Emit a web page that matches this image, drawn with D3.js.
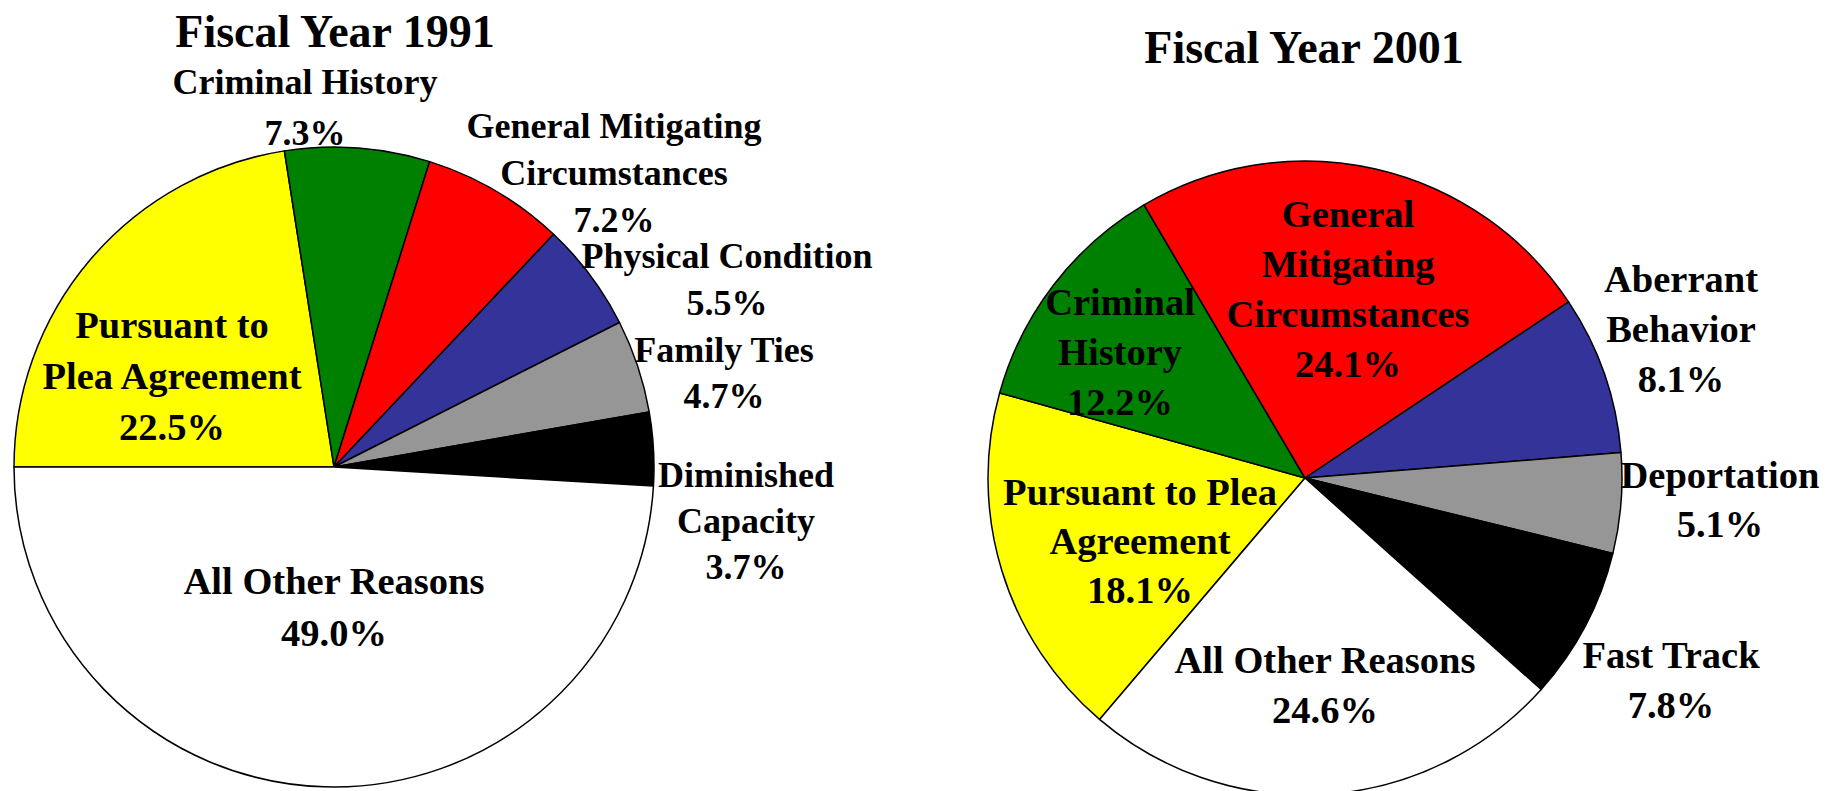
<!DOCTYPE html>
<html>
<head>
<meta charset="utf-8">
<script src="https://cdn.jsdelivr.net/npm/d3@7"></script>
<style>
  body { margin: 0; background: #fff; }
  svg text { font-family: "Liberation Serif", "Times New Roman", serif; font-weight: bold; fill: #000; }
</style>
</head>
<body>
<svg width="1827" height="791"></svg>
<script>
// slice order is the same in both years, going clockwise
const colors = ["#ffff00", "#008000", "#ff0000", "#333399", "#969696", "#000000", "#ffffff"];

const categories1991 = ["Pursuant to Plea Agreement", "Criminal History", "General Mitigating Circumstances",
    "Physical Condition", "Family Ties", "Diminished Capacity", "All Other Reasons"];
const values1991 = [22.5, 7.3, 7.2, 5.5, 4.7, 3.7, 49.0];
const labelLines1991 = [["Pursuant to", "Plea Agreement"], ["Criminal History"], ["General Mitigating", "Circumstances"],
    ["Physical Condition"], ["Family Ties"], ["Diminished", "Capacity"], ["All Other Reasons"]];

const categories2001 = ["Pursuant to Plea Agreement", "Criminal History", "General Mitigating Circumstances",
    "Aberrant Behavior", "Deportation", "Fast Track", "All Other Reasons"];
const values2001 = [18.1, 12.2, 24.1, 8.1, 5.1, 7.8, 24.6];
const labelLines2001 = [["Pursuant to Plea", "Agreement"], ["Criminal", "History"], ["General", "Mitigating", "Circumstances"],
    ["Aberrant", "Behavior"], ["Deportation"], ["Fast Track"], ["All Other Reasons"]];

// label placement relative to the pie centre (first baseline), line spacing and font size
const labelLayout1991 = [
    { dx: -162, dy: -129, lh: 51, fs: 38.5 }, { dx: -29, dy: -373, lh: 51, fs: 36 },
    { dx: 280, dy: -329, lh: 47, fs: 36 }, { dx: 393, dy: -199, lh: 47, fs: 36 },
    { dx: 390, dy: -105, lh: 46, fs: 36 }, { dx: 412, dy: 20, lh: 46, fs: 36 },
    { dx: 0, dy: 127, lh: 52, fs: 38.5 }];
const labelLayout2001 = [
    { dx: -165, dy: 27, lh: 49, fs: 38.5 }, { dx: -185, dy: -163, lh: 50, fs: 38.5 },
    { dx: 43, dy: -251, lh: 50, fs: 38.5 }, { dx: 376, dy: -186, lh: 50, fs: 38.5 },
    { dx: 415, dy: 10, lh: 49, fs: 38.5 }, { dx: 366, dy: 190, lh: 50, fs: 38.5 },
    { dx: 20, dy: 195, lh: 50, fs: 38.5 }];

const svg = d3.select("svg");
const fmt = d => d3.format(".1f")(d) + "%";

function drawPie(opts) {
    const g = svg.append("g")
        .attr("transform", `translate(${opts.cx}, ${opts.cy})`);

    const data = opts.values.map((v, i) => ({ cat: opts.categories[i], value: v, lines: opts.lines[i], pos: opts.layout[i] }));

    const pie = d3.pie()
        .sort(null)
        .value(d => d.value)
        .startAngle(opts.start)
        .endAngle(opts.start + 2 * Math.PI);

    const arc = d3.arc().innerRadius(0).outerRadius(opts.r);

    g.selectAll("path")
        .data(pie(data))
        .enter().append("path")
        .attr("d", arc)
        .attr("fill", (d, i) => colors[i])
        .attr("stroke", "#000")
        .attr("stroke-width", 1.5)
        .attr("stroke-linejoin", "round");

    const labels = g.selectAll(".lbl")
        .data(data)
        .enter().append("text")
        .attr("class", "lbl")
        .attr("text-anchor", "middle")
        .attr("font-size", d => d.pos.fs);

    labels.each(function (d) {
        const t = d3.select(this);
        const lines = d.lines.concat([fmt(d.value)]);
        lines.forEach((line, k) => {
            t.append("tspan")
                .attr("x", d.pos.dx)
                .attr("y", d.pos.dy + k * d.pos.lh)
                .text(line);
        });
    });

    svg.append("text")
        .attr("x", opts.cx + opts.titleDx)
        .attr("y", opts.titleY)
        .attr("text-anchor", "middle")
        .attr("font-size", 46)
        .text(opts.title);
}

drawPie({
    title: "Fiscal Year 1991", titleDx: 1, titleY: 47,
    cx: 334, cy: 467, r: 320, start: -Math.PI / 2,
    categories: categories1991, values: values1991, lines: labelLines1991, layout: labelLayout1991
});

drawPie({
    title: "Fiscal Year 2001", titleDx: -1, titleY: 63,
    cx: 1305, cy: 478, r: 317, start: -139.6 * Math.PI / 180,
    categories: categories2001, values: values2001, lines: labelLines2001, layout: labelLayout2001
});
</script>
</body>
</html>
